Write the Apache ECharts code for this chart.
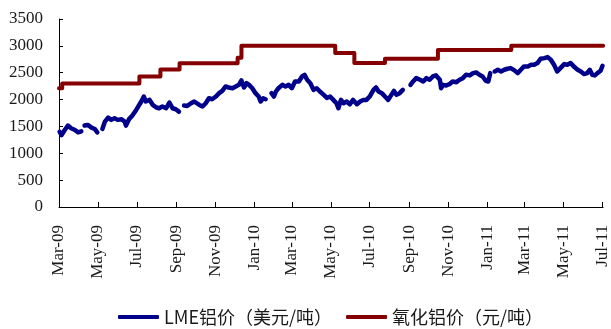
<!DOCTYPE html>
<html>
<head>
<meta charset="utf-8">
<script src="https://cdn.jsdelivr.net/npm/echarts@6/dist/echarts.min.js"></script>
<style>
  html, body { margin: 0; padding: 0; background: #fff; }
  #chart { width: 611px; height: 329px; }
</style>
</head>
<body>
<div id="chart"></div>
<script>
// LME aluminium price, USD/t (null = break in the series)
const lmeDates = [
  '2009-03-02','2009-03-05','2009-03-10','2009-03-15','2009-03-20','2009-03-26','2009-03-31','2009-04-05','2009-04-08',
  '2009-04-10','2009-04-15','2009-04-21','2009-04-26','2009-04-30','2009-05-04',
  '2009-05-08','2009-05-12','2009-05-17','2009-05-22','2009-05-27','2009-06-01','2009-06-07','2009-06-12','2009-06-14',
  '2009-06-19','2009-06-24','2009-06-30','2009-07-03','2009-07-08','2009-07-12','2009-07-15','2009-07-21','2009-07-26',
  '2009-07-31','2009-08-05','2009-08-10','2009-08-16','2009-08-21','2009-08-26','2009-08-31','2009-09-05','2009-09-09',
  '2009-09-13','2009-09-18','2009-09-24','2009-09-29','2009-10-02','2009-10-07','2009-10-12','2009-10-17','2009-10-22',
  '2009-10-27','2009-11-02','2009-11-07','2009-11-12','2009-11-17','2009-11-22','2009-11-28','2009-12-03','2009-12-08',
  '2009-12-12','2009-12-16','2009-12-20','2009-12-24','2009-12-29','2010-01-03','2010-01-08','2010-01-11','2010-01-15',
  '2010-01-19','2010-01-22',
  '2010-01-28','2010-02-01','2010-02-04','2010-02-08','2010-02-14','2010-02-19','2010-02-24','2010-03-01','2010-03-06',
  '2010-03-12','2010-03-17','2010-03-21','2010-03-25','2010-03-30','2010-04-04','2010-04-09','2010-04-14','2010-04-20',
  '2010-04-25','2010-04-30','2010-05-05','2010-05-10','2010-05-13','2010-05-17','2010-05-21','2010-05-26','2010-05-31',
  '2010-06-05','2010-06-11','2010-06-16','2010-06-21','2010-06-26','2010-07-01','2010-07-07','2010-07-11','2010-07-15',
  '2010-07-20','2010-07-25','2010-07-30','2010-08-04','2010-08-08','2010-08-12','2010-08-17','2010-08-22','2010-08-27',
  '2010-09-03','2010-09-07','2010-09-12','2010-09-18','2010-09-23','2010-09-28','2010-10-03','2010-10-08','2010-10-13',
  '2010-10-19','2010-10-21','2010-10-24','2010-10-29','2010-11-03','2010-11-08','2010-11-14','2010-11-19','2010-11-24',
  '2010-11-29','2010-12-05','2010-12-10','2010-12-15','2010-12-20','2010-12-25','2010-12-30','2011-01-03','2011-01-06',
  '2011-01-10',
  '2011-01-13','2011-01-18','2011-01-23','2011-01-28','2011-02-02','2011-02-07','2011-02-13','2011-02-18','2011-02-21',
  '2011-02-23','2011-02-28','2011-03-06','2011-03-11','2011-03-16','2011-03-21','2011-03-26','2011-04-01','2011-04-06',
  '2011-04-11','2011-04-16','2011-04-21','2011-04-26','2011-05-02','2011-05-07','2011-05-12','2011-05-17','2011-05-23',
  '2011-05-28','2011-06-02','2011-06-07','2011-06-11','2011-06-15','2011-06-19','2011-06-23','2011-06-28','2011-07-01'
];
const lmeValues = [
  1400,1340,1434,1516,1465,1434,1390,1410,null,
  1516,1528,1478,1453,1390,null,
  1453,1590,1665,1622,1653,1622,1634,1590,1516,
  1640,1702,1807,1776,1964,2057,1964,1994,1900,
  1857,1838,1870,1838,1945,1838,1820,1776,null,
  1888,1882,1932,1964,1994,1900,1870,1932,2025,
  2006,2057,2119,2162,2244,2225,2212,2244,2274,
  2356,2225,2305,2274,2212,2119,2057,1964,2025,
  2006,null,
  2119,2057,2150,2212,2274,2244,2274,2212,2337,
  2337,2430,2460,2368,2305,2181,2212,2150,2088,
  2030,2057,1994,1932,1839,1994,1932,1964,1913,
  1994,1913,1964,1994,1994,2057,2181,2225,2150,
  2119,2057,1994,2088,2162,2088,2119,2181,null,
  2274,2337,2399,2368,2337,2399,2368,2430,2450,
  2368,2212,2274,2262,2287,2337,2324,2368,2399,
  2462,2450,2492,2505,2462,2430,2350,2337,2492,
  null,
  2524,2555,2524,2555,2574,2586,2543,2492,2462,
  2555,2617,2617,2648,2648,2679,2760,2772,2790,
  2741,2648,2524,2586,2660,2648,2679,2617,2555,
  2524,2474,2492,2555,2462,2450,2492,2536,2630
];

// Alumina price, CNY/t (value holds until the next date)
const aluminaDates = [
  '2009-03-01','2009-03-06','2009-07-05','2009-08-07','2009-09-06','2009-12-06','2009-12-12',
  '2010-05-08','2010-06-07','2010-07-25','2010-10-16','2011-02-08','2011-07-02'
];
const aluminaValues = [2210,2300,2430,2560,2675,2780,3000,2865,2680,2760,2925,3000,3000];

// Axis ticks every two months
const tickDates = [
  '2009-03-01','2009-05-01','2009-07-01','2009-09-01','2009-11-01','2010-01-01','2010-03-01','2010-05-01',
  '2010-07-01','2010-09-01','2010-11-01','2011-01-01','2011-03-01','2011-05-01','2011-07-01'
];
const tickLabels = [
  'Mar-09','May-09','Jul-09','Sep-09','Nov-09','Jan-10','Mar-10','May-10',
  'Jul-10','Sep-10','Nov-10','Jan-11','Mar-11','May-11','Jul-11'
];
const xStart = '2009-03-01';
const xEnd = '2011-07-02';

// Dates are placed on a day-number axis (days since 1970-01-01, UTC)
function toDay(s) {
  const p = s.split('-').map(Number);
  return Math.round(Date.UTC(p[0], p[1] - 1, p[2]) / 86400000);
}

const tickDays = tickDates.map(toDay);
const lmeData = lmeDates.map((d, i) => [toDay(d), lmeValues[i] == null ? '-' : lmeValues[i]]);
const aluminaData = aluminaDates.map((d, i) => [toDay(d), aluminaValues[i]]);

const axisFont = '"Liberation Serif", "DejaVu Serif", serif';
const cjkFont = '"Noto Sans CJK SC", sans-serif';

const chart = echarts.init(document.getElementById('chart'), null, { renderer: 'canvas' });
chart.setOption({
  animation: false,
  backgroundColor: '#ffffff',
  grid: { left: 59, right: 5, top: 19, bottom: 122, containLabel: false },
  legend: {
    left: 118,
    top: 308,
    padding: 0,
    itemGap: 14,
    itemWidth: 41,
    itemHeight: 4,
    icon: 'roundRect',
    textStyle: { fontFamily: cjkFont, fontSize: 18, color: '#1a1a1a' },
    data: ['LME铝价（美元/吨）', '氧化铝价（元/吨）']
  },
  xAxis: {
    type: 'value',
    min: toDay(xStart),
    max: toDay(xEnd),
    splitLine: { show: false },
    axisLine: { lineStyle: { color: '#000', width: 1 } },
    axisTick: {
      show: true, inside: true, length: 5,
      lineStyle: { color: '#000' },
      customValues: tickDays
    },
    axisLabel: {
      customValues: tickDays,
      rotate: 90,
      margin: 18,
      fontFamily: axisFont,
      fontSize: 17,
      color: '#1a1a1a',
      formatter: function (v) {
        const i = tickDays.indexOf(v);
        return i >= 0 ? tickLabels[i] : '';
      }
    }
  },
  yAxis: {
    type: 'value',
    min: 0,
    max: 3500,
    interval: 500,
    splitLine: { show: false },
    axisLine: { show: true, lineStyle: { color: '#000', width: 1 } },
    axisTick: { show: true, inside: true, length: 4, lineStyle: { color: '#000' } },
    axisLabel: {
      margin: 16,
      fontFamily: axisFont,
      fontSize: 17,
      color: '#1a1a1a',
      formatter: function (v) { return String(v); }
    }
  },
  series: [
    {
      name: 'LME铝价（美元/吨）',
      type: 'line',
      data: lmeData,
      showSymbol: false,
      connectNulls: false,
      color: '#00008b',
      lineStyle: { color: '#00008b', width: 4.5, cap: 'round', join: 'round' },
      z: 3
    },
    {
      name: '氧化铝价（元/吨）',
      type: 'line',
      step: 'end',
      data: aluminaData,
      showSymbol: false,
      color: '#850000',
      lineStyle: { color: '#850000', width: 4, cap: 'round', join: 'round' },
      z: 2
    }
  ]
});
</script>
</body>
</html>
